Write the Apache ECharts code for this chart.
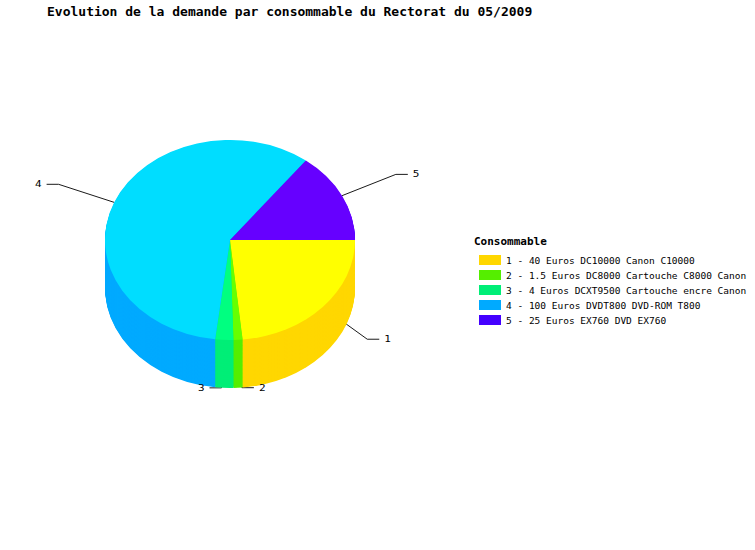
<!DOCTYPE html>
<html><head><meta charset="utf-8">
<script src="https://cdn.jsdelivr.net/npm/echarts@6/dist/echarts.min.js"></script>
<style>
body{margin:0;background:#fff}
#main{position:absolute;left:0;top:0;width:755px;height:550px}
#pie{position:absolute;left:0;top:0;width:470px;height:600px;transform:scaleY(0.8);transform-origin:0 0}
</style></head><body>
<div id="main"></div><div id="pie"></div>
<script>
// Données
const ids = ["1", "2", "3", "4", "5"];
const legendNames = [
  "1 - 40 Euros DC10000 Canon C10000",
  "2 - 1.5 Euros DC8000 Cartouche C8000 Canon",
  "3 - 4 Euros DCXT9500 Cartouche encre Canon",
  "4 - 100 Euros DVDT800 DVD-ROM T800",
  "5 - 25 Euros EX760 DVD EX760"
];
const values = [16, 0.8, 1.6, 40, 10];
const topColors = ["#FFFF00", "#66FF00", "#00FF80", "#00DDFF", "#6600FF"];
const sideColors = ["#FFD700", "#55EE00", "#00EE77", "#00AAFF", "#4400FF"];

const FONT = "DejaVu Sans Mono";

// graphique principal : titre + légende
const main = echarts.init(document.getElementById("main"), null, { renderer: "svg" });
main.setOption({
  animation: false,
  title: {
    text: "Evolution de la demande par consommable du Rectorat du 05/2009",
    left: 42, top: 0,
    textStyle: { fontFamily: FONT, fontSize: 13, fontWeight: "bold", color: "#000" }
  },
  graphic: [{ type: "text", left: 474, top: 236,
    style: { text: "Consommable", font: "bold 11px " + FONT, fill: "#000" } }],
  legend: {
    orient: "vertical", left: 474, top: 250, itemGap: 5,
    itemWidth: 22, itemHeight: 10, icon: "rect",
    selectedMode: false,
    textStyle: { fontFamily: FONT, fontSize: 9.5, color: "#000" },
    data: legendNames
  },
  series: [{
    type: "pie", radius: [0, 0], silent: true, label: { show: false },
    data: legendNames.map((n, i) => ({ name: n, value: values[i], itemStyle: { color: sideColors[i] } }))
  }]
});

// camembert "3D" (écrasé verticalement en CSS)
const pie = echarts.init(document.getElementById("pie"), null, { renderer: "svg" });
const CX = 230, CY = 300, R = 125, DEPTH = 60;
const series = [];
for (let k = DEPTH; k >= 1; k--) {
  series.push({
    type: "pie", silent: true, startAngle: 0, clockwise: true,
    center: [CX, CY + k], radius: R, label: { show: false }, labelLine: { show: false },
    data: values.map((v, i) => ({ name: ids[i], value: v, itemStyle: { color: sideColors[i] } }))
  });
}
series.push({
  type: "pie", silent: true, startAngle: 0, clockwise: true,
  center: [CX, CY], radius: R,
  label: { show: true, position: "outside", fontFamily: FONT, fontSize: 11, color: "#000", formatter: "{b}" },
  labelLine: { show: true, length: 60, length2: 12, lineStyle: { color: "#000", width: 1 } },
  data: values.map((v, i) => ({ name: ids[i], value: v, itemStyle: { color: topColors[i] } }))
});
pie.setOption({ animation: false, series });
</script>
</body></html>
